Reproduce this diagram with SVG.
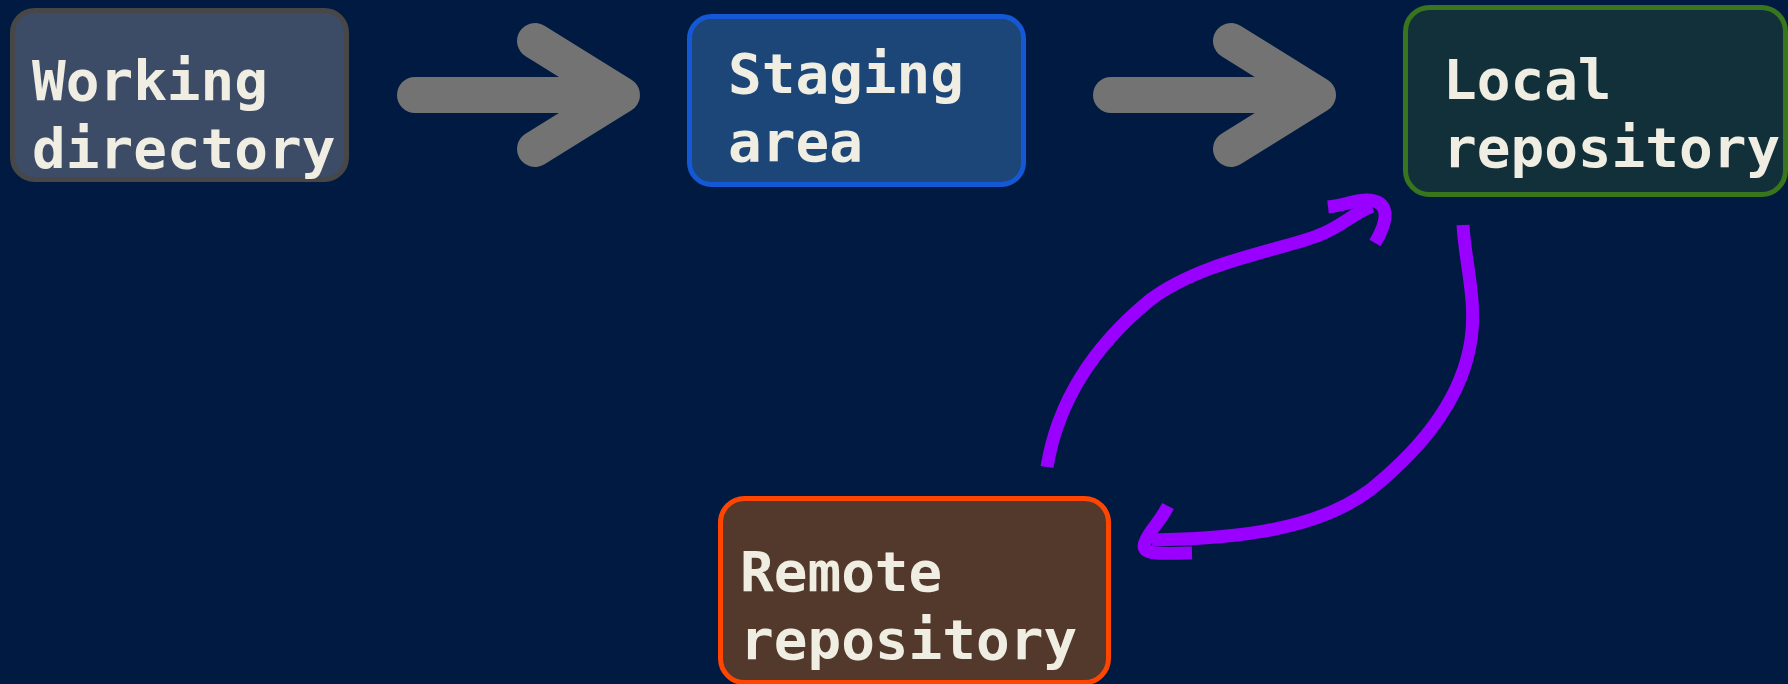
<svg xmlns="http://www.w3.org/2000/svg" width="1788" height="684" viewBox="0 0 1788 684">
  <style>
    .lbl { font-family: "DejaVu Sans Mono", "Liberation Mono", monospace; font-weight: bold; font-size: 56px; fill: #f0ede2; }
    .box { stroke-width: 5; }
    .grey { fill: none; stroke: #737373; stroke-width: 36; stroke-linecap: round; stroke-linejoin: round; }
    .purple { fill: none; stroke: #9900ff; stroke-width: 13; stroke-linecap: butt; stroke-linejoin: round; }
  </style>
  <rect x="0" y="0" width="1788" height="684" fill="#001a41"/>

  <g id="connectors">
    <g id="arrow-work-to-staging">
      <path class="grey" d="M 415 95 H 610"/>
      <path class="grey" d="M 535 41 L 622 95 L 535 149"/>
    </g>
    <g id="arrow-staging-to-local">
      <path class="grey" d="M 1111 95 H 1306"/>
      <path class="grey" d="M 1231 41 L 1318 95 L 1231 149"/>
    </g>
    <g id="arrow-remote-to-local">
      <path class="purple" d="M 1047 467 C 1058 400, 1095 345, 1150 300 C 1200 262, 1280 250, 1317 236 C 1340 228, 1355 212, 1372 206"/>
      <path class="purple" d="M 1328 207 C 1345 205, 1358 199, 1368 200 C 1386 201, 1392 214, 1375 243"/>
    </g>
    <g id="arrow-local-to-remote">
      <path class="purple" d="M 1463 225 C 1465 262, 1477 300, 1471 340 C 1462 400, 1420 450, 1370 490 C 1310 535, 1220 538, 1152 540"/>
      <path class="purple" d="M 1168 506 C 1160 522, 1150 530, 1146 540 C 1138 555, 1155 554, 1192 553"/>
    </g>
  </g>

  <g id="node-working">
    <rect class="box" x="12.5" y="10.5" width="334" height="169" rx="22" fill="#3c4b66" stroke="#474747"/>
    <text class="lbl" x="32" y="100">Working</text>
    <text class="lbl" x="32" y="168">directory</text>
  </g>

  <g id="node-staging">
    <rect class="box" x="689.5" y="16.5" width="334" height="168" rx="22" fill="#1c4677" stroke="#1558d6"/>
    <text class="lbl" x="728" y="93">Staging</text>
    <text class="lbl" x="728" y="161">area</text>
  </g>

  <g id="node-local">
    <rect class="box" x="1405.5" y="7.5" width="380" height="187" rx="24" fill="#11303a" stroke="#38761d"/>
    <text class="lbl" x="1443" y="99">Local</text>
    <text class="lbl" x="1443" y="167">repository</text>
  </g>

  <g id="node-remote">
    <rect class="box" x="720.5" y="498.5" width="388" height="184" rx="24" fill="#52392b" stroke="#ff4500"/>
    <text class="lbl" x="740" y="591">Remote</text>
    <text class="lbl" x="740" y="659">repository</text>
  </g>
</svg>
